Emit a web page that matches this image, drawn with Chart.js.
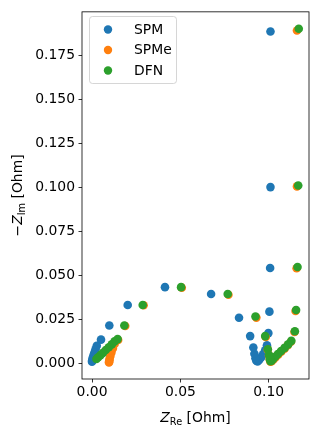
<!DOCTYPE html>
<html>
<head>
<meta charset="utf-8">
<script src="https://cdn.jsdelivr.net/npm/chart.js@4"></script>
<style>
html,body{margin:0;padding:0;background:#fff;}
canvas{display:block;}
</style>
</head>
<body>
<canvas id="c" width="318" height="435"></canvas>
<script>
// ---- data ----
const seriesNames = ['SPM', 'SPMe', 'DFN'];
const seriesColors = ['#1f77b4', '#ff7f0e', '#2ca02c'];

const spmRe = [0.1010,0.1010,0.1008,0.1004,0.0998, 0.0990,0.0980,0.0968,0.0957,0.0946,0.0937, 0.0930,0.0925,0.0919,0.0913, 0.0895,0.0832,0.0674,0.0413,0.0202,0.0098,0.0051, 0.0027,0.0020,0.0014,0.0009,0.0005,0.0003,0.0001,0.0000];
const spmIm = [0.1884,0.1001,0.0542,0.0294,0.0172, 0.0103,0.0075,0.0052,0.0034,0.0020,0.0011, 0.0015,0.0030,0.0055,0.0090, 0.0155,0.0259,0.0394,0.0433,0.0332,0.0215,0.0135, 0.0100,0.0080,0.0062,0.0047,0.0034,0.0024,0.0016,0.0010];

const spmeRe = [0.1160,0.1160,0.1158,0.1152,0.1146, 0.1126,0.1108,0.1090,0.1071,0.1054,0.1039,0.1027,0.1017, 0.1010,0.1006,0.1002,0.0995,0.0983, 0.0930,0.0772,0.0508,0.0292,0.0188,0.0148, 0.0128,0.0118,0.0110,0.0104,0.0100,0.0098,0.0097,0.0096];
const spmeIm = [0.1890,0.1005,0.0540,0.0298,0.0178, 0.0123,0.0103,0.0084,0.0066,0.0050,0.0035,0.0022,0.0013, 0.0010,0.0022,0.0045,0.0077,0.0150, 0.0260,0.0390,0.0430,0.0330,0.0212,0.0133, 0.0110,0.0085,0.0062,0.0042,0.0027,0.0016,0.0009,0.0005];

const dfnRe = [0.1170,0.1167,0.1163,0.1155,0.1148, 0.1128,0.1110,0.1090,0.1070,0.1052,0.1037,0.1025,0.1016, 0.1010,0.1006,0.1002,0.0995,0.0980, 0.0925,0.0768,0.0504,0.0287,0.0183,0.0145, 0.0128,0.0112,0.0095,0.0078,0.0062,0.0048,0.0035,0.0025];
const dfnIm = [0.1900,0.1010,0.0547,0.0303,0.0183, 0.0128,0.0108,0.0088,0.0070,0.0053,0.0038,0.0025,0.0015, 0.0012,0.0025,0.0048,0.0080,0.0155, 0.0266,0.0394,0.0433,0.0332,0.0215,0.0138, 0.0125,0.0108,0.0092,0.0076,0.0060,0.0047,0.0035,0.0025];

const xTickValues = [0, 0.05, 0.10];
const xTickLabels = ['0.00', '0.05', '0.10'];
const yTickValues = [0, 0.025, 0.05, 0.075, 0.1, 0.125, 0.15, 0.175];
const yTickLabels = ['0.000', '0.025', '0.050', '0.075', '0.100', '0.125', '0.150', '0.175'];

const xTitleParts = [['Z','it'], ['Re','sub'], [' [Ohm]','rm']];
const yTitleParts = [['\u2212','rm'], ['Z','it'], ['Im','sub'], [' [Ohm]','rm']];

// ---- build ----
function pts(xs, ys) { return xs.map((x, i) => ({x: x, y: ys[i]})); }
const seriesPoints = [pts(spmRe, spmIm), pts(spmeRe, spmeIm), pts(dfnRe, dfnIm)];

const FONT = '"DejaVu Sans", sans-serif';
const FS = 13.9;

function drawMath(ctx, parts, cx, cy, rot) {
  ctx.save();
  ctx.translate(cx, cy);
  if (rot) ctx.rotate(rot);
  ctx.fillStyle = '#000';
  ctx.textBaseline = 'alphabetic';
  const fontFor = k => k === 'it' ? 'italic ' + FS + 'px ' + FONT : (k === 'sub' ? (FS * 0.7).toFixed(2) + 'px ' + FONT : FS + 'px ' + FONT);
  let total = 0;
  const widths = parts.map(p => { ctx.font = fontFor(p[1]); const w = ctx.measureText(p[0]).width; total += w; return w; });
  let x = -total / 2;
  const base = 5; // baseline offset from centre
  parts.forEach((p, i) => {
    ctx.font = fontFor(p[1]);
    ctx.fillText(p[0], x, base + (p[1] === 'sub' ? 2.6 : 0));
    x += widths[i];
  });
  ctx.restore();
}

const extras = {
  id: 'extras',
  afterDraw(chart) {
    const ctx = chart.ctx;
    const a = chart.chartArea;
    // frame
    ctx.save();
    ctx.strokeStyle = '#000';
    ctx.lineWidth = 0.8;
    ctx.strokeRect(a.left, a.top, a.right - a.left, a.bottom - a.top);
    ctx.restore();
    // axis titles
    drawMath(ctx, xTitleParts, (a.left + a.right) / 2, 417, 0);
    drawMath(ctx, yTitleParts, 17, (a.top + a.bottom) / 2, -Math.PI / 2);
    // legend
    ctx.save();
    const lx = 89.5, ly = 16.5, lw = 87, lh = 67, r = 3;
    ctx.beginPath();
    ctx.moveTo(lx + r, ly);
    ctx.arcTo(lx + lw, ly, lx + lw, ly + lh, r);
    ctx.arcTo(lx + lw, ly + lh, lx, ly + lh, r);
    ctx.arcTo(lx, ly + lh, lx, ly, r);
    ctx.arcTo(lx, ly, lx + lw, ly, r);
    ctx.closePath();
    ctx.fillStyle = 'rgba(255,255,255,0.8)';
    ctx.fill();
    ctx.strokeStyle = 'rgba(204,204,204,0.8)';
    ctx.lineWidth = 1;
    ctx.stroke();
    const rows = [29.5, 50, 70.5];
    chart.data.datasets.forEach((ds, i) => {
      ctx.beginPath();
      ctx.arc(108, rows[i], 4.2, 0, Math.PI * 2);
      ctx.fillStyle = ds.backgroundColor;
      ctx.fill();
      ctx.fillStyle = '#000';
      ctx.font = FS + 'px ' + FONT;
      ctx.textBaseline = 'middle';
      ctx.textAlign = 'left';
      ctx.fillText(ds.label, 134, rows[i] + 0.5);
    });
    ctx.restore();
  }
};

new Chart(document.getElementById('c'), {
  type: 'scatter',
  data: {
    datasets: seriesNames.map((n, i) => ({
      label: n,
      data: seriesPoints[i],
      backgroundColor: seriesColors[i],
      borderColor: seriesColors[i],
      borderWidth: 0,
      pointRadius: 4.3,
      pointHoverRadius: 4.3,
      order: seriesNames.length - 1 - i
    }))
  },
  options: {
    responsive: false,
    animation: false,
    devicePixelRatio: 1,
    layout: {padding: {top: 9, right: 9, left: 0, bottom: 0}},
    plugins: {legend: {display: false}, tooltip: {enabled: false}},
    scales: {
      x: {
        type: 'linear',
        min: -0.00566,
        max: 0.1228,
        border: {display: false},
        grid: {drawOnChartArea: false, drawTicks: true, tickLength: 3.5, tickWidth: 0.8, color: '#000'},
        ticks: {
          color: '#000', font: {family: FONT, size: FS}, padding: 2, maxRotation: 0,
          callback: (v) => { const i = xTickValues.findIndex(t => Math.abs(t - v) < 1e-9); return i >= 0 ? xTickLabels[i] : ''; }
        },
        afterBuildTicks: s => { s.ticks = xTickValues.map(v => ({value: v})); },
        afterFit: s => { s.height = 56; }
      },
      y: {
        type: 'linear',
        min: -0.00885,
        max: 0.1996,
        border: {display: false},
        grid: {drawOnChartArea: false, drawTicks: true, tickLength: 3.5, tickWidth: 0.8, color: '#000'},
        ticks: {
          color: '#000', font: {family: FONT, size: FS}, padding: 3.5,
          callback: (v) => { const i = yTickValues.findIndex(t => Math.abs(t - v) < 1e-9); return i >= 0 ? yTickLabels[i] : ''; }
        },
        afterBuildTicks: s => { s.ticks = yTickValues.map(v => ({value: v})); },
        afterFit: s => { s.width = 82; }
      }
    }
  },
  plugins: [extras]
});
</script>
</body>
</html>
